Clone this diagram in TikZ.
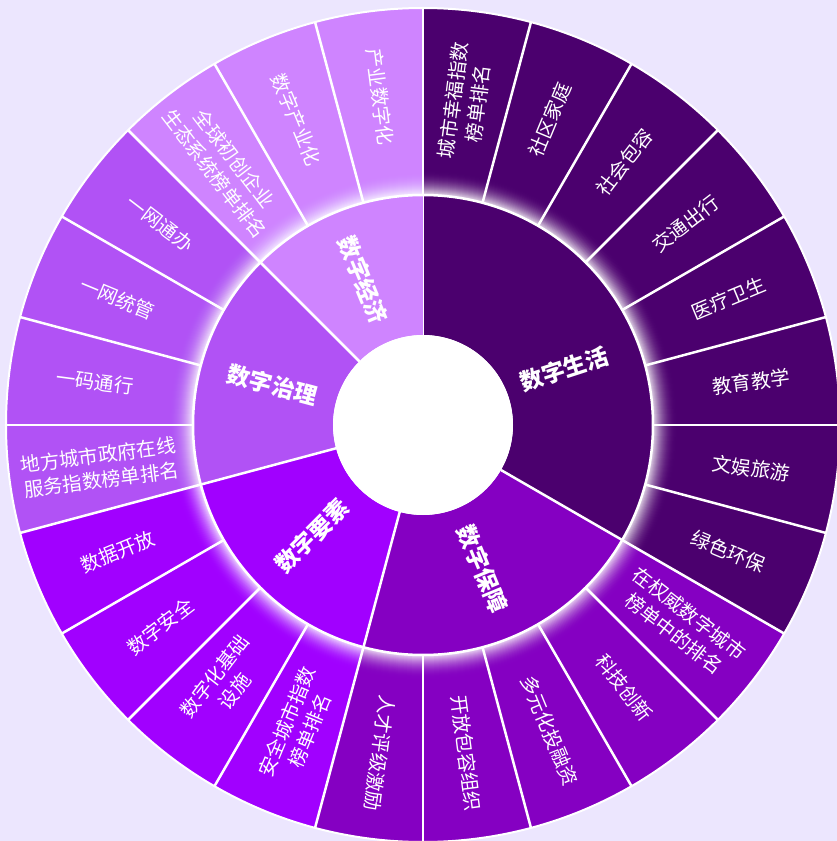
\documentclass[tikz,border=0pt]{standalone}
\usepackage{fontspec}
\newfontfamily\cjk{Noto Sans CJK SC}
\definecolor{bgc}{HTML}{ECE6FE}
\definecolor{cA}{HTML}{4B006E}
\definecolor{cB}{HTML}{8500C2}
\definecolor{cC}{HTML}{A100FF}
\definecolor{cD}{HTML}{B152F5}
\definecolor{cE}{HTML}{CF84FF}
\begin{document}
\begin{tikzpicture}[x=1pt,y=1pt,
  outlab/.style={text=white, font=\cjk\fontsize{19.5}{25}\selectfont, align=center, inner sep=0pt},
  inlab/.style={text=white, font=\cjk\bfseries\fontsize{23}{28}\selectfont, inner sep=0pt},
  sepline/.style={white, line width=2.5pt}]
\fill[bgc] (-423,-416) rectangle (414,425);
\useasboundingbox (-423,-416) rectangle (414,425);
% outer ring
\foreach \i/\c in {0/cA,1/cA,2/cA,3/cA,4/cA,5/cA,6/cA,7/cA,8/cB,9/cB,10/cB,11/cB,12/cB,13/cC,14/cC,15/cC,16/cC,17/cD,18/cD,19/cD,20/cD,21/cE,22/cE,23/cE}{
  \pgfmathsetmacro\a{90-15*\i}
  \pgfmathsetmacro\b{75-15*\i}
  \fill[\c] (\a:230) -- (\a:417) arc[start angle=\a, end angle=\b, radius=417] -- (\b:230) arc[start angle=\b, end angle=\a, radius=230] -- cycle;
}
% glow (stacked discs, smooth)
\foreach \k in {25,...,1}{
  \pgfmathsetmacro\op{1-(1-0.85*(1-(\k-1)/25)^2)/(1-0.85*(1-\k/25)^2)}
  \fill[white, fill opacity=\op] (0,0) circle (230+\k);
}
\foreach \i in {0,...,23}{
  \draw[sepline] (90-15*\i:229) -- (90-15*\i:417);
}
\draw[white, line width=2pt] (0,0) circle (417);
% inner ring
\foreach \a/\b/\c in {90/-30/cA,-30/-105/cB,-105/-165/cC,-165/-225/cD,-225/-270/cE}{
  \fill[\c] (\a:90) -- (\a:230) arc[start angle=\a, end angle=\b, radius=230] -- (\b:90) arc[start angle=\b, end angle=\a, radius=90] -- cycle;
  \draw[sepline] (\a:90) -- (\a:230);
}
\draw[sepline] (0,0) circle (230);
\fill[white] (0,0) circle (90);
% inner labels
\node[inlab, rotate=18] (shenghuo) at (21.7:152) {数字生活};
\node[inlab, rotate=-67.5] (baozhang) at (-67.5:156) {数字保障};
\node[inlab, rotate=45] (yaosu) at (-135:157) {数字要素};
\node[inlab, rotate=-15] (zhili) at (165:156) {数字治理};
\node[inlab, rotate=-67.5] (jingji) at (112.5:157) {数字经济};
% outer labels
\foreach \i/\r/\d/\t in {
 0/82.5/326/{城市幸福指数\\榜单排名},
 1/67.5/331/{社区家庭},
 2/52.5/331/{社会包容},
 3/37.5/331/{交通出行},
 4/22.5/331/{医疗卫生},
 5/7.5/331/{教育教学},
 6/-7.5/331/{文娱旅游},
 7/-22.5/331/{绿色环保},
 8/-37.5/326/{在权威数字城市\\榜单中的排名},
 9/-52.5/331/{科技创新},
 10/-67.5/331/{多元化投融资},
 11/-82.5/331/{开放包容组织},
 12/-97.5/331/{人才评级激励},
 13/67.5/326/{安全城市指数\\榜单排名},
 14/52.5/326/{数字化基础\\设施},
 15/37.5/331/{数字安全},
 16/22.5/331/{数据开放},
 17/7.5/326/{地方城市政府在线\\服务指数榜单排名},
 18/-7.5/331/{一码通行},
 19/-22.5/331/{一网统管},
 20/-37.5/331/{一网通办},
 21/-52.5/326/{全球初创企业\\生态系统榜单排名},
 22/-67.5/331/{数字产业化},
 23/-82.5/331/{产业数字化}}{
  \node[outlab, rotate=\r] (lab\i) at ({82.5-15*\i}:\d) {\t};
}
\end{tikzpicture}
\end{document}
